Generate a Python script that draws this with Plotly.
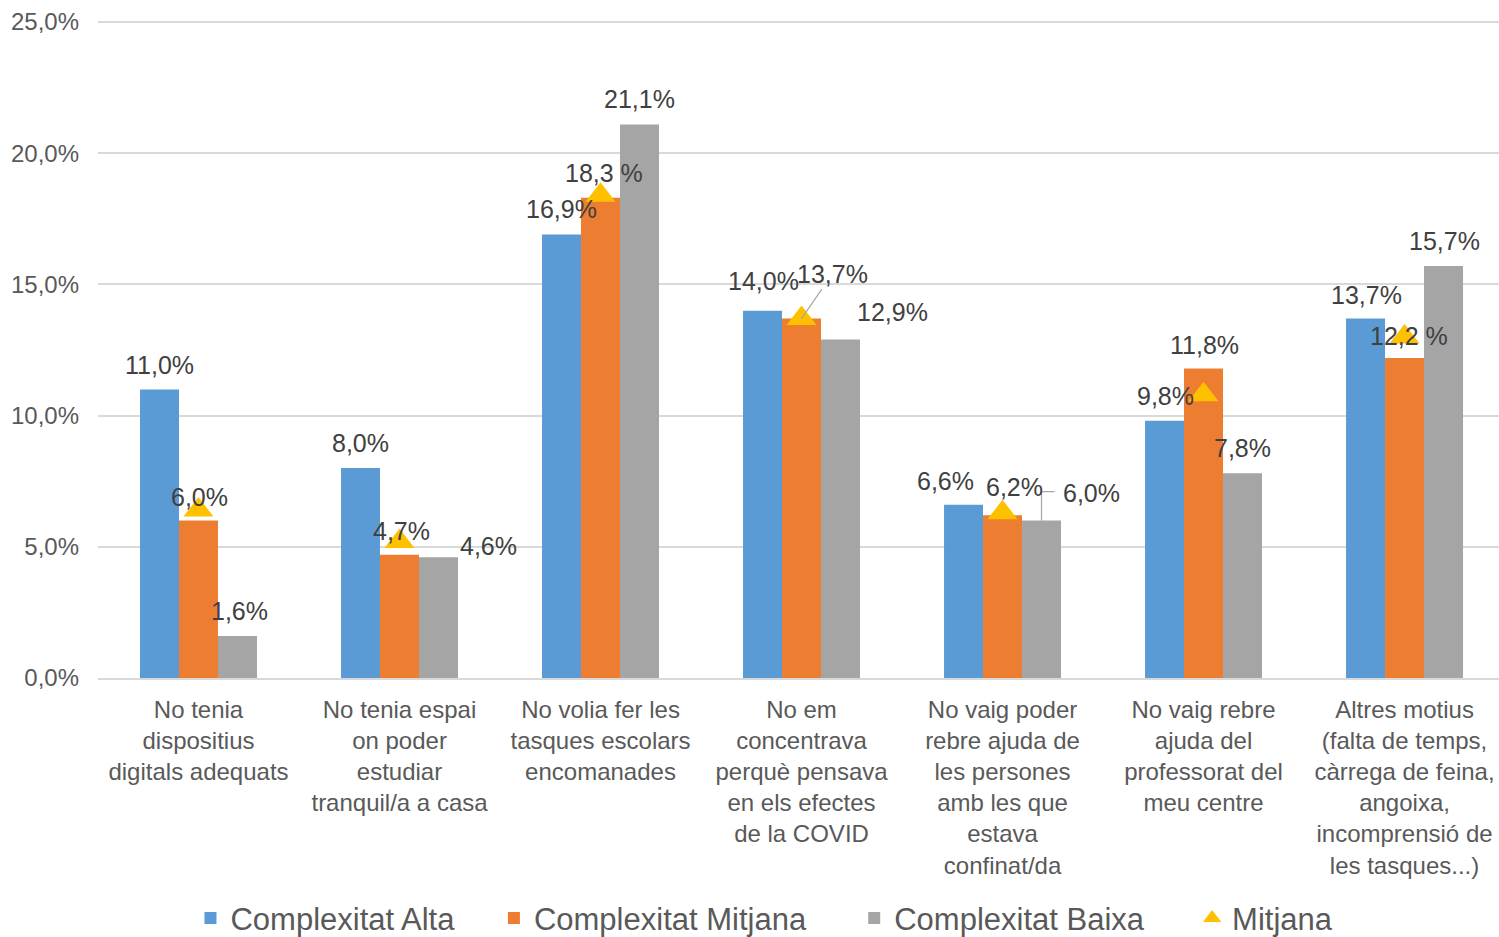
import plotly.graph_objects as go

categories = [
    "No tenia<br>dispositius<br>digitals adequats",
    "No tenia espai<br>on poder<br>estudiar<br>tranquil/a a casa",
    "No volia fer les<br>tasques escolars<br>encomanades",
    "No em<br>concentrava<br>perquè pensava<br>en els efectes<br>de la COVID",
    "No vaig poder<br>rebre ajuda de<br>les persones<br>amb les que<br>estava<br>confinat/da",
    "No vaig rebre<br>ajuda del<br>professorat del<br>meu centre",
    "Altres motius<br>(falta de temps,<br>càrrega de feina,<br>angoixa,<br>incomprensió de<br>les tasques...)",
]
alta = [11.0, 8.0, 16.9, 14.0, 6.6, 9.8, 13.7]
mitjana_c = [6.0, 4.7, 18.3, 13.7, 6.2, 11.8, 12.2]
baixa = [1.6, 4.6, 21.1, 12.9, 6.0, 7.8, 15.7]
mitjana = [6.4, 5.2, 18.4, 13.7, 6.3, 10.8, 13.0]
y_ticks = [0, 5, 10, 15, 20, 25]
y_tick_labels = ["0,0%", "5,0%", "10,0%", "15,0%", "20,0%", "25,0%"]

series_names = ["Complexitat Alta", "Complexitat Mitjana", "Complexitat Baixa", "Mitjana"]
colors = ["#5B9BD5", "#ED7D31", "#A5A5A5", "#FFC000"]

FONT = "Liberation Sans, Arial, sans-serif"
NB = "\u00a0"
legend_pad = [4, 5, 5, 0]  # spacing after each legend entry (non-breaking spaces)
x = list(range(len(categories)))

fig = go.Figure()
for i, (name, vals, col) in enumerate(zip(series_names[:3], [alta, mitjana_c, baixa], colors[:3])):
    fig.add_trace(go.Bar(x=x, y=vals, name=name + NB * legend_pad[i],
                         marker=dict(color=col, line=dict(width=0))))
fig.add_trace(go.Scatter(x=x, y=mitjana, name=series_names[3], mode="markers",
                         marker=dict(symbol="triangle-up", size=26, color=colors[3])))

def fmt(v):
    return f"{v:.1f}".replace(".", ",") + "%"

# label nudges in pixels (dx, dy upward) relative to bar top-centre
nudge = {
    0: [(0, 24), (0, 25), (0, 26), (1, 30), (-18, 24), (1, 25), (1, 24)],
    1: [(1, 24), (2, 24), (3, 25), (31, 45), (12, 28), (1, 23), (4, 22)],
    2: [(2, 25), (50, 11), (0, 25), (52, 28), (50, 28), (0, 25), (1, 25)],
}
spaced = {(1, 2), (1, 6)}
offsets = [-0.194, 0.0, 0.194]
annotations = []
for s, vals in enumerate([alta, mitjana_c, baixa]):
    for k, v in enumerate(vals):
        dx, dy = nudge[s][k]
        txt = fmt(v)
        if (s, k) in spaced:
            txt = txt.replace("%", " %")
        a = dict(x=k + offsets[s], y=v, xref="x", yref="y", text=txt,
                 font=dict(family=FONT, size=25, color="#404040"),
                 xanchor="center", yanchor="middle")
        if (s, k) == (1, 3):
            a.update(showarrow=True, arrowhead=0, arrowwidth=1.2, arrowcolor="#A6A6A6",
                     ax=dx, ay=-dy, axref="pixel", ayref="pixel", standoff=0)
        else:
            a.update(showarrow=False, xshift=dx, yshift=dy)
        annotations.append(a)

shapes = [dict(type="path", xref="x", yref="y", xsizemode="pixel", ysizemode="pixel",
               xanchor=4 + offsets[2], yanchor=baixa[4], path="M0,0 V29 H13",
               line=dict(color="#A6A6A6", width=1.2))]

fig.update_layout(
    width=1499, height=937,
    margin=dict(l=98, r=0, t=21, b=259, autoexpand=False),
    paper_bgcolor="white", plot_bgcolor="white",
    barmode="group", bargap=0.418, bargroupgap=0,
    font=dict(family=FONT, color="#595959"),
    annotations=annotations, shapes=shapes,
    legend=dict(orientation="h", x=0.066, xanchor="left", y=-0.366, yanchor="middle",
                font=dict(family=FONT, size=31, color="#595959"), itemwidth=30,
                traceorder="normal"),
    showlegend=True,
)
fig.update_xaxes(range=[-0.5, 6.47], tickmode="array", tickvals=x, ticktext=categories,
                 tickangle=0, tickfont=dict(family=FONT, size=24, color="#595959"),
                 showgrid=False, showline=True, linecolor="#D9D9D9", linewidth=1.5,
                 ticks="", zeroline=False, ticklabelstandoff=9, automargin=False)
fig.update_yaxes(range=[0, 25.04], tickmode="array", tickvals=y_ticks, ticktext=y_tick_labels,
                 tickfont=dict(family=FONT, size=24, color="#595959"),
                 showgrid=True, gridcolor="#D9D9D9", gridwidth=1.5, zeroline=False,
                 showline=False, ticks="", ticklabelstandoff=18, automargin=False)

fig.write_html("out.html", config={"displayModeBar": False},
               post_script="document.body.style.margin='0';document.body.style.overflow='hidden';")
